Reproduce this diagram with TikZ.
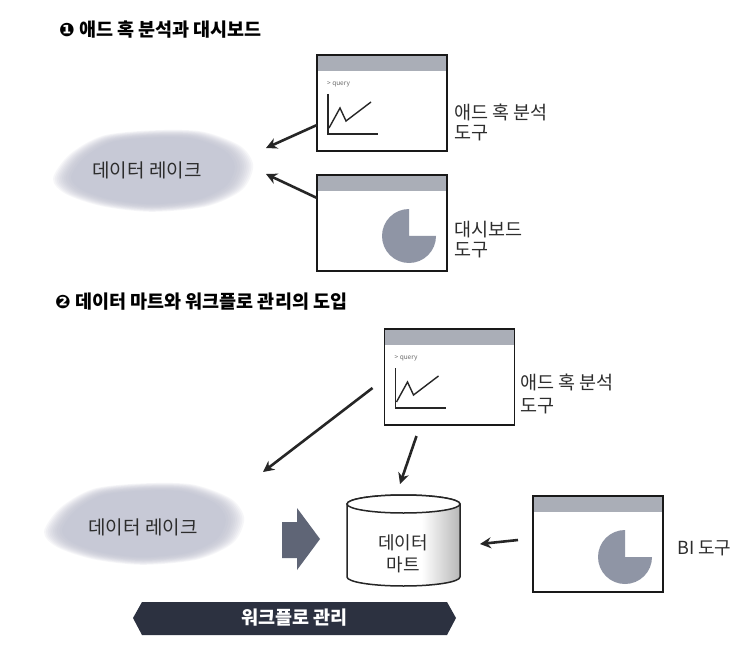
\documentclass[tikz,border=0pt]{standalone}
\usepackage{fontspec}
\setmainfont{Noto Sans CJK KR}
\newfontfamily\symf{DejaVu Sans}
\usetikzlibrary{arrows.meta}

\definecolor{barcol}{RGB}{170,174,183}
\definecolor{piecol}{RGB}{143,149,165}
\definecolor{cloudcol}{RGB}{178,182,200}
\definecolor{blockcol}{RGB}{95,101,118}
\definecolor{bandcol}{RGB}{44,49,64}
\definecolor{txtcol}{RGB}{45,45,45}

\pgfdeclarehorizontalshading{cylshade}{100bp}{color(0bp)=(white); color(25bp)=(white); color(58bp)=(white); color(75bp)=(black!28); color(100bp)=(black!28)}

\tikzset{
  win/.style={draw=black!90, line width=1.7pt, fill=white, minimum width=130pt, minimum height=96pt,
    inner sep=0pt, outer sep=0pt,
    path picture={\fill[barcol] (path picture bounding box.north west) rectangle ([yshift=-16pt]path picture bounding box.north east);}},
  lbl/.style={anchor=west, align=left, inner sep=0pt, text=txtcol},
  ttl/.style={anchor=west, inner sep=0pt, font=\fontsize{18.5}{20}\selectfont\bfseries},
  arr/.style={line width=2.6pt, draw=black!85, -{Stealth[length=11pt, width=11pt]}},
  chartline/.style={line width=1.4pt, draw=black!85},
  cloudtxt/.style={inner sep=0pt, text=txtcol, font=\fontsize{19}{22}\selectfont}
}

\newcommand{\querychart}[2]{%
  \begin{scope}[shift={(#1.north west)}]
    \node (#2) [anchor=west, font=\fontsize{6.5}{6.5}\selectfont, text=black!60, inner sep=0pt] at (10,29) {> query};
    \draw[chartline] (11,39) -- (11,79) -- (61,79);
    \draw[chartline, line join=miter] (12,73) -- (23,53) -- (29,66) -- (54,47);
  \end{scope}}

\newcommand{\piechart}[1]{%
  \fill[piecol] ([xshift=92pt,yshift=-61pt]#1.north west) -- +(0:27) arc[start angle=0, end angle=270, radius=27] -- cycle;}

\newcommand{\blob}[2]{%
  \foreach \s in {1.10,1.08,1.06,1.04,1.02,1.0,0.98,0.96,0.93,0.9}{
    \fill[cloudcol, opacity=0.11, shift={(#1,#2)}, scale=\s]
      plot[smooth cycle] coordinates {(-90,8) (-75,-14) (-45,-31) (0,-36) (45,-35) (80,-22) (92,-4) (82,18) (50,33) (0,38) (-45,33) (-78,22)};
  }}

\begin{document}
\begin{tikzpicture}[x=1pt, y=-1pt]
\useasboundingbox (0,0) rectangle (754,652);
\fill[white] (0,0) rectangle (754,652);

% ---------- Section 1 ----------
\node[ttl] (t1) at (59,30) {{\symf ❶}\ 애드 혹 분석과 대시보드};

\blob{152}{170}
\node[cloudtxt] (lake1) at (147,170) {데이터 레이크};

\node[win] (a1) at (382,103) {};
\querychart{a1}{q1}
\node[lbl, font=\fontsize{18.5}{20}\selectfont] (la1) at (454,122) {애드 혹 분석\\도구};

\node[win] (b1) at (382,223) {};
\piechart{b1}
\node[lbl, font=\fontsize{18.5}{20}\selectfont] (lb1) at (454,240) {대시보드\\도구};

\coordinate (tip1) at (266,148);
\coordinate (tip2) at (266,174);
\draw[arr] ([yshift=-22pt]a1.west) -- (tip1);
\draw[arr] ([yshift=25pt]b1.west) -- (tip2);

% ---------- Section 2 ----------
\node[ttl] (t2) at (55,302) {{\symf ❷}\ 데이터 마트와 워크플로 관리의 도입};

\node[win] (a2) at (449.5,377) {};
\querychart{a2}{q2}
\node[lbl, font=\fontsize{18.5}{23}\selectfont] (la2) at (520,393.5) {애드 혹 분석\\도구};

\blob{143}{523}
\node[cloudtxt] (lake2) at (143,527) {데이터 레이크};

% cylinder (data mart)
\node[minimum width=113pt, minimum height=91pt, inner sep=0pt, outer sep=0pt] (mart) at (403.5,540.5) {};
\shade[shading=cylshade, draw=black!85, line width=1.5pt]
  (347,504) -- (347,577) arc[start angle=180, end angle=0, x radius=56.5, y radius=9]
  -- (460,504) arc[start angle=0, end angle=-180, x radius=56.5, y radius=9] -- cycle;
\draw[fill=white, draw=black!85, line width=1.5pt] (403.5,504) ellipse [x radius=56.5, y radius=9];
\node[inner sep=0pt, align=center, text=txtcol, font=\fontsize{18}{22}\selectfont] (martlbl) at (403,554) {데이터\\마트};

\node[win] (bi) at (598,544) {};
\piechart{bi}
\node[lbl, font=\fontsize{18}{20}\selectfont] (lbi) at (677,548) {BI 도구};

% arrows
\coordinate (tip3) at (263,472);
\draw[arr] ([xshift=-12pt,yshift=-11pt]a2.west) -- (tip3);
\draw[arr] ([xshift=32pt,yshift=-11pt]a2.south west) -- ([xshift=53pt,yshift=11pt]mart.north west);
\draw[arr] ([xshift=-15pt,yshift=4pt]bi.west) -- ([xshift=20pt]bi.west -| mart.east);

% block arrow
\fill[blockcol] (282,522) -- (297,522) -- (297,508) -- (320,539) -- (297,570) -- (297,558) -- (282,558) -- cycle;

% workflow band
\fill[bandcol] (133,618) -- (142,602) -- (447,602) -- (456,618) -- (447,635) -- (142,635) -- cycle;
\node[inner sep=0pt, text=white, font=\fontsize{18.5}{20}\selectfont\bfseries] (wf) at (294.5,618) {워크플로 관리};
\end{tikzpicture}
\end{document}
